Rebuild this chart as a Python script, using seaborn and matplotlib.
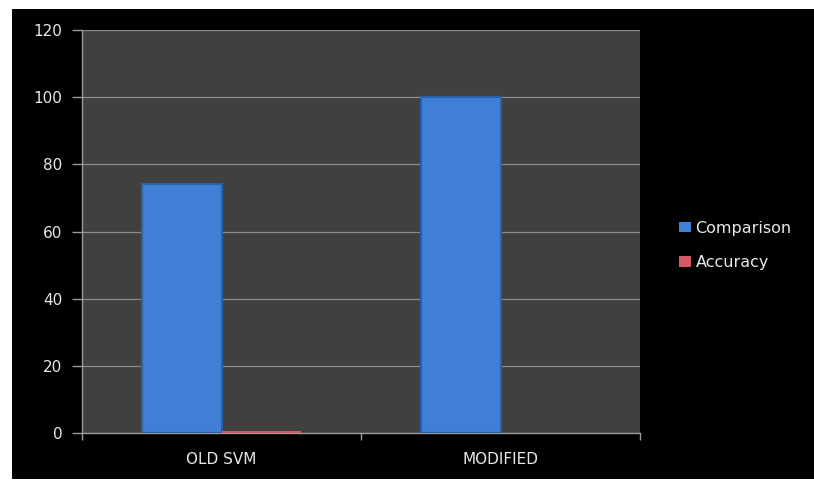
import matplotlib
matplotlib.use("Agg")
import matplotlib.pyplot as plt
from matplotlib.patches import Rectangle
import pandas as pd
import seaborn as sns

# Data
categories = ["OLD SVM", "MODIFIED"]
series = ["Comparison", "Accuracy"]
comparison = [74, 100]
accuracy = [0.6, 0]

df = pd.DataFrame({
    "category": categories * 2,
    "series": [series[0]] * 2 + [series[1]] * 2,
    "value": comparison + accuracy,
})

sns.set_style("white")
plt.rcParams["font.family"] = ["DejaVu Sans"]

fig = plt.figure(figsize=(8.14, 4.84), dpi=100, facecolor="white")
# black chart frame on a white sheet
fig.patches.append(Rectangle((12 / 814, 5 / 484), 802 / 814, 470 / 484,
                             transform=fig.transFigure, facecolor="black",
                             edgecolor="none", zorder=-5))
ax = fig.add_axes([82 / 814, 51 / 484, 558 / 814, 403 / 484])
ax.set_zorder(2)
ax.set_facecolor("#404040")

palette = {"Comparison": "#3f7fd6", "Accuracy": "#d45a68"}
sns.barplot(data=df, x="category", y="value", hue="series", palette=palette,
            width=0.57, saturation=1, ax=ax, zorder=3, linewidth=0)

# darker side edges on the blue bars (Excel-style shading)
for p in ax.patches:
    if p.get_height() > 5:
        p.set_edgecolor("#2b5fa8")
        p.set_linewidth(1.5)

ax.set_ylim(0, 120)
ax.set_xlim(-0.5, 1.5)
ax.set_yticks(range(0, 121, 20))
ax.yaxis.grid(True, color="#8c8c8c", linewidth=0.9, zorder=0)
ax.set_axisbelow(True)
ax.set_xlabel("")
ax.set_ylabel("")

for s in ["top", "right"]:
    ax.spines[s].set_visible(False)
for s in ["left", "bottom"]:
    ax.spines[s].set_color("#9a9a9a")
    ax.spines[s].set_linewidth(1)

ax.tick_params(axis="y", left=True, colors="#9a9a9a", labelcolor="#e8e8e8",
               labelsize=11, length=7, width=1, direction="out", pad=7)
ax.tick_params(axis="x", which="major", bottom=False, labelcolor="#e8e8e8",
               labelsize=11, pad=10)
ax.set_xticks([-0.5, 0.5, 1.5], minor=True)
ax.tick_params(axis="x", which="minor", bottom=True, length=5, width=1,
               color="#9a9a9a")

leg = ax.legend(loc="center left", bbox_to_anchor=(1.045, 0.465), frameon=False,
                fontsize=11.5, handlelength=0.7, handleheight=0.6,
                handletextpad=0.3, labelspacing=1.2)
for t in leg.get_texts():
    t.set_color("#e8e8e8")
for h in leg.legend_handles:
    h.set_linewidth(0)

fig.savefig("out.png", dpi=100, facecolor=fig.get_facecolor())
